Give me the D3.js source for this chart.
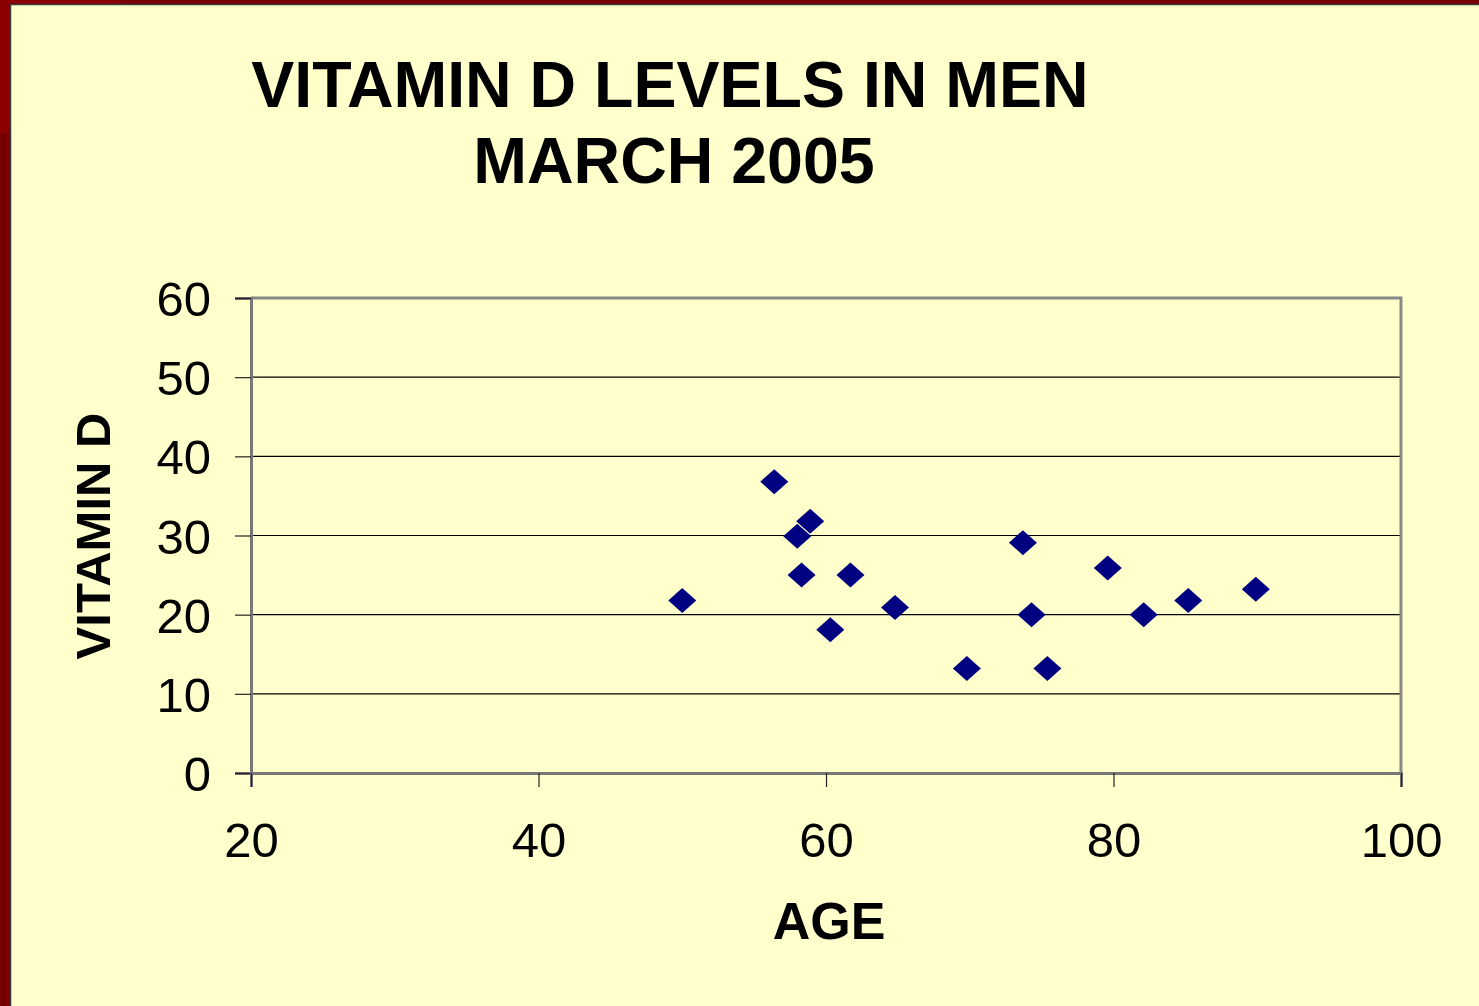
<!DOCTYPE html>
<html><head><meta charset="utf-8">
<script src="https://cdn.jsdelivr.net/npm/d3@7"></script>
<style>html,body{margin:0;padding:0;background:#FFFFCC;}svg{display:block;}</style>
</head><body>
<script>
const titleLines = ["VITAMIN D LEVELS IN MEN", "MARCH 2005"];
const xLabel = "AGE";
const yLabel = "VITAMIN D";
const xTicks = [20, 40, 60, 80, 100];
const yTicks = [0, 10, 20, 30, 40, 50, 60];
const ages     = [50.0, 56.4, 58.0, 58.9, 58.3, 61.7, 60.3, 64.8, 69.8, 73.7, 74.3, 75.4, 79.6, 82.1, 85.2, 89.9];
const vitaminD = [21.8, 36.8, 29.9, 31.8, 25.0, 25.0, 18.1, 20.9, 13.2, 29.1, 20.0, 13.2, 25.9, 20.0, 21.8, 23.2];

const W = 1479, H = 1006;
const svg = d3.select("body").append("svg").attr("width", W).attr("height", H);

// border
svg.append("rect").attr("x",0).attr("y",0).attr("width",W).attr("height",H).attr("fill","#780000");
svg.append("rect").attr("x",0).attr("y",0).attr("width",120).attr("height",133).attr("fill","#8B0000");
svg.append("rect").attr("x",10.5).attr("y",4.5).attr("width",W).attr("height",H)
  .attr("fill","#FFFFCC").attr("stroke","#3a3a3a").attr("stroke-width",1.5);

const font = "'Liberation Sans', Arial, sans-serif";
const L = 251, R = 1401, T = 298, B = 773;
const x = d3.scaleLinear().domain([20, 100]).range([L, R]);
const y = d3.scaleLinear().domain([0, 60]).range([B, T]);

// title
svg.append("text").attr("x", 670).attr("y", 107).attr("text-anchor","middle")
  .attr("font-family", font).attr("font-weight","bold").attr("font-size", 64.5).attr("fill","#000")
  .text(titleLines[0]);
svg.append("text").attr("x", 674).attr("y", 183).attr("text-anchor","middle")
  .attr("font-family", font).attr("font-weight","bold").attr("font-size", 64.5).attr("fill","#000")
  .text(titleLines[1]);

// gridlines
svg.append("g").selectAll("line").data(yTicks.filter(d => d > 0 && d < 60)).join("line")
  .attr("x1", L).attr("x2", R).attr("y1", d => y(d)).attr("y2", d => y(d))
  .attr("stroke","#000").attr("stroke-width",1.2);

// frame top/right
svg.append("path").attr("d", `M${L},${T}H${R}V${B}`).attr("fill","none")
  .attr("stroke","#888").attr("stroke-width",3);

// y axis
const yAxis = d3.axisLeft(y).tickValues(yTicks).tickSize(16).tickPadding(24);
const gy = svg.append("g").attr("transform", `translate(${L},0)`).call(yAxis);
gy.select(".domain").attr("stroke","#777").attr("stroke-width",3);
gy.selectAll(".tick line").attr("stroke","#222").attr("stroke-width",1.2);
gy.selectAll(".tick text").attr("font-family", font).attr("font-size", 49).attr("fill","#000").attr("dy","0.36em");

// x axis
const xAxis = d3.axisBottom(x).tickValues(xTicks).tickSize(14).tickPadding(35);
const gx = svg.append("g").attr("transform", `translate(0,${B})`).call(xAxis);
gx.select(".domain").attr("stroke","#777").attr("stroke-width",3);
gx.selectAll(".tick line").attr("stroke","#222").attr("stroke-width",1.2);
gx.selectAll(".tick text").attr("font-family", font).attr("font-size", 49).attr("fill","#000").attr("dy","0.71em");

// axis titles
svg.append("text").attr("x", 829).attr("y", 939).attr("text-anchor","middle")
  .attr("font-family", font).attr("font-weight","bold").attr("font-size", 52).attr("fill","#000").text(xLabel);
svg.append("text").attr("transform", `translate(110,536) rotate(-90)`).attr("text-anchor","middle")
  .attr("font-family", font).attr("font-weight","bold").attr("font-size", 49).attr("fill","#000").text(yLabel);

// points
const hw = 14, hh = 12.5;
svg.append("g").selectAll("path").data(ages.map((a,i)=>[a, vitaminD[i]])).join("path")
  .attr("d", d => `M${x(d[0])},${y(d[1])-hh}L${x(d[0])+hw},${y(d[1])}L${x(d[0])},${y(d[1])+hh}L${x(d[0])-hw},${y(d[1])}Z`)
  .attr("fill","#000080");
</script>
</body></html>
